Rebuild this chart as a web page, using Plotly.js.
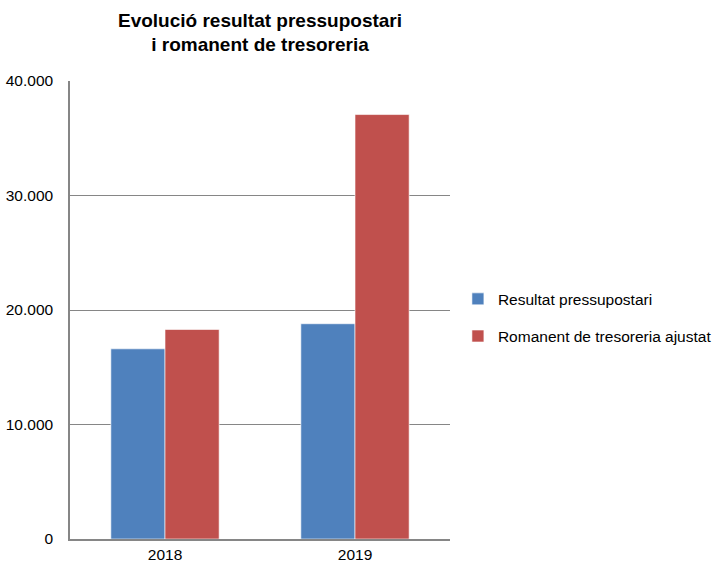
<!DOCTYPE html>
<html><head><meta charset="utf-8">
<script src="https://cdn.plot.ly/plotly-3.0.1.min.js"></script>
<style>html,body{margin:0;padding:0;background:#fff}</style>
</head><body>
<div id="chart" style="width:720px;height:564px"></div>
<script>
const categories = ["2018", "2019"];
const resultatPressupostari = [16610, 18800];
const romanentTresoreria = [18300, 37070];
const seriesNames = ["Resultat pressupostari", "Romanent de tresoreria ajustat"];
const yTicks = [0, 10000, 20000, 30000, 40000];

const font = "Liberation Sans, Arial, sans-serif";
const data = [
  {type: "bar", x: categories, y: resultatPressupostari, name: seriesNames[0], legendgroup: "a",
   marker: {color: "#4F81BD", line: {color: "#ffffff", width: 0.6}}},
  {type: "bar", x: categories, y: romanentTresoreria, name: seriesNames[1], legendgroup: "b",
   marker: {color: "#C0504D", line: {color: "#ffffff", width: 0.6}}}
];
const layout = {
  width: 720, height: 564,
  margin: {l: 70, r: 270, t: 81, b: 25},
  separators: ",.",
  font: {family: font, size: 15.5, color: "#000"},
  title: {text: "<b>Evolució resultat pressupostari<br>i romanent de tresoreria</b>",
          font: {family: font, size: 19, color: "#000"},
          x: 0.5, xref: "paper", y: 0.953, yref: "container", xanchor: "center", yanchor: "top"},
  barmode: "group", bargap: 0.43, bargroupgap: 0,
  xaxis: {showline: true, linecolor: "#868686", linewidth: 1.5, ticks: "", showgrid: false,
          tickfont: {size: 15.5}, ticklabelstandoff: 1},
  yaxis: {range: [0, 40000], tickvals: yTicks, tickformat: ",d", showline: true,
          linecolor: "#868686", linewidth: 1.5, gridcolor: "#868686", gridwidth: 1.3,
          ticks: "", zeroline: false, tickfont: {size: 15.5}, ticklabelstandoff: 12},
  showlegend: true,
  legend: {xref: "container", x: 0.636, yref: "paper", y: 0.483, xanchor: "left", yanchor: "middle",
           font: {size: 15.5}, itemwidth: 30, tracegroupgap: 14, bgcolor: "rgba(0,0,0,0)"},
  plot_bgcolor: "#fff", paper_bgcolor: "#fff"
};
Plotly.newPlot("chart", data, layout, {displayModeBar: false});
</script>
</body></html>
